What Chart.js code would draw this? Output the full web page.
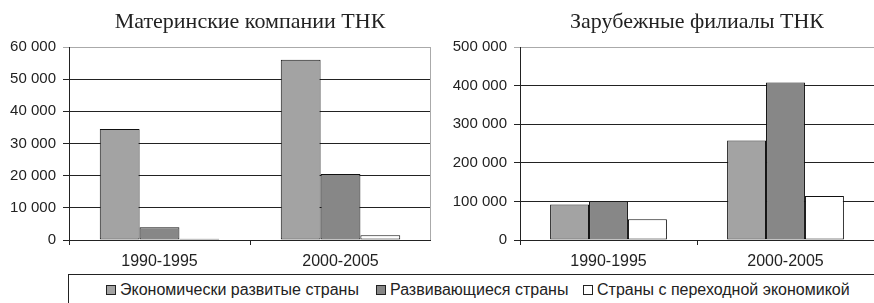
<!DOCTYPE html>
<html lang="ru">
<head>
<meta charset="utf-8">
<script src="https://cdn.jsdelivr.net/npm/chart.js@4.4.1/dist/chart.umd.min.js"></script>
<style>
  body { margin: 0; width: 874px; height: 303px; overflow: hidden; background: #fff; position: relative;
         font-family: Arial, "Liberation Sans", sans-serif; }
  #izq { position: absolute; left: 0; top: 0; }
  #der { position: absolute; left: 440px; top: 0; }
  #leyenda { position: absolute; left: 68px; top: 274px; width: 840px; height: 40px; box-sizing: border-box;
             border: 1px solid #222; font-size: 16px; color: #222; }
  .item { position: absolute; top: 6px; white-space: nowrap; }
  .item:nth-child(1) { left: 37px; }
  .item:nth-child(2) { left: 307px; }
  .item:nth-child(3) { left: 514px; }
  .cuadro { display: inline-block; width: 8px; height: 8px; border: 1px solid #222; margin-right: 4px;
            vertical-align: 0px; }
</style>
</head>
<body>
<canvas id="izq" width="431" height="270"></canvas>
<canvas id="der" width="434" height="270"></canvas>
<div id="leyenda"></div>

<script>
// Datos
const categorias = ['1990-1995', '2000-2005'];
const series = ['Экономически развитые страны', 'Развивающиеся страны', 'Страны с переходной экономикой'];
const colores = ['#a3a3a3', '#878787', '#ffffff'];

// Материнские компании ТНК
const matrizDesarrollados = [34500, 56000];
const matrizEnDesarrollo = [4000, 20500];
const matrizTransicion = [400, 1500];

// Зарубежные филиалы ТНК
const filialesDesarrollados = [92000, 258000];
const filialesEnDesarrollo = [100000, 408000];
const filialesTransicion = [54000, 114000];

const fuenteY = { family: 'Arial, "Liberation Sans", sans-serif', size: 15 };
const fuenteX = { family: 'Arial, "Liberation Sans", sans-serif', size: 16 };
const fuenteTitulo = { family: '"Liberation Serif", "Times New Roman", serif', size: 22, weight: 'normal' };

// "60000" -> "60 000"
const formato = (v) => v.toString().replace(/\B(?=(\d{3})+(?!\d))/g, ' ');

// Borde derecho claro del área de trazado (solo el gráfico izquierdo)
const marco = {
  id: 'marco',
  afterDraw(chart) {
    const { ctx, chartArea } = chart;
    ctx.save();
    ctx.strokeStyle = '#aaa';
    ctx.lineWidth = 1;
    ctx.beginPath();
    ctx.moveTo(chartArea.right - 0.5, chartArea.top);
    ctx.lineTo(chartArea.right - 0.5, chartArea.bottom);
    ctx.stroke();
    ctx.restore();
  }
};

function crearGrafico(id, titulo, datos, maximo, paso, anchoEje, plugins) {
  return new Chart(document.getElementById(id), {
    type: 'bar',
    data: {
      labels: categorias,
      datasets: series.map((nombre, i) => ({
        label: nombre,
        data: datos[i],
        backgroundColor: colores[i],
        borderColor: '#111',
        borderWidth: 1,
        borderSkipped: false,
        categoryPercentage: 0.66,
        barPercentage: 1
      }))
    },
    options: {
      responsive: false,
      animation: false,
      layout: { padding: 0 },
      plugins: {
        legend: { display: false },
        tooltip: { enabled: false },
        title: {
          display: true,
          text: titulo,
          fullSize: false,
          font: fuenteTitulo,
          color: '#222',
          padding: { top: 9, bottom: 11.6 }
        }
      },
      scales: {
        x: {
          grid: { offset: true, drawOnChartArea: false, drawTicks: true, tickLength: 5, color: '#222' },
          border: { color: '#222' },
          ticks: { padding: 7, font: fuenteX, color: '#222' },
          afterFit: (s) => { s.height = 30; }
        },
        y: {
          min: 0,
          max: maximo,
          ticks: { stepSize: paso, padding: 7, font: fuenteY, color: '#222', callback: formato },
          grid: { color: (c) => (c.tick && c.tick.value === maximo ? '#aaa' : '#222'), tickLength: 6 },
          border: { color: '#222' },
          afterFit: (s) => { s.width = anchoEje; }
        }
      }
    },
    plugins: plugins
  });
}

crearGrafico('izq', 'Материнские компании ТНК',
  [matrizDesarrollados, matrizEnDesarrollo, matrizTransicion], 60000, 10000, 69, [marco]);

crearGrafico('der', 'Зарубежные филиалы ТНК',
  [filialesDesarrollados, filialesEnDesarrollo, filialesTransicion], 500000, 100000, 80, []);

// Leyenda común debajo de los dos gráficos
const leyenda = document.getElementById('leyenda');
series.forEach((nombre, i) => {
  const item = document.createElement('span');
  item.className = 'item';
  const cuadro = document.createElement('span');
  cuadro.className = 'cuadro';
  cuadro.style.background = colores[i];
  item.appendChild(cuadro);
  item.appendChild(document.createTextNode(nombre));
  leyenda.appendChild(item);
});
</script>
</body>
</html>
